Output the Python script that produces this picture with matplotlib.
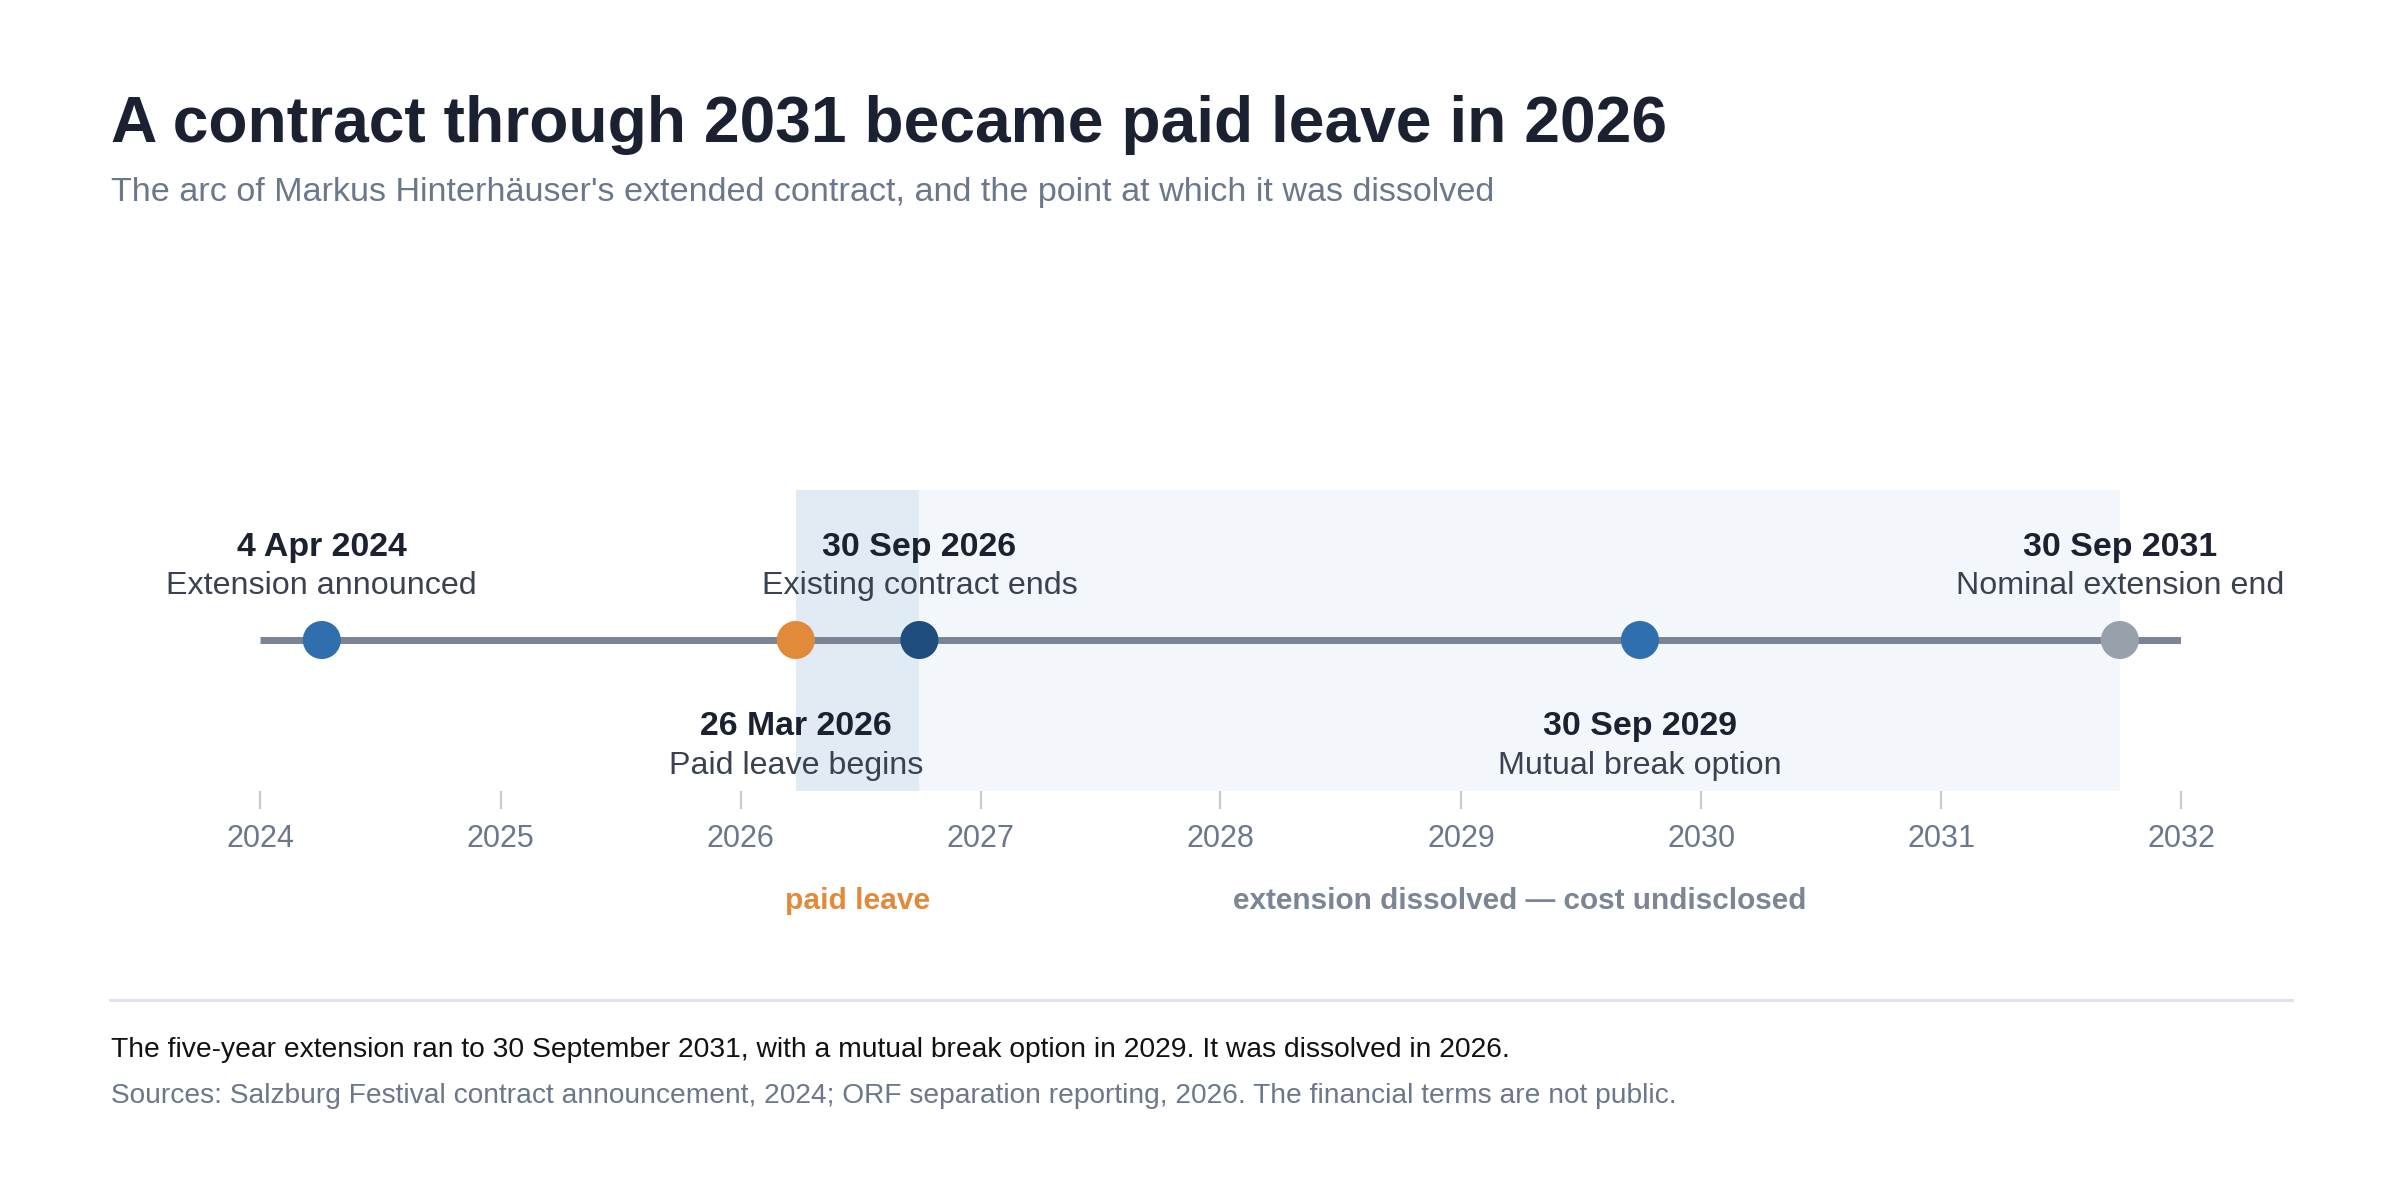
import pandas as pd
import matplotlib.pyplot as plt
import matplotlib.dates as mdates
from matplotlib.lines import Line2D

plt.rcParams['font.family'] = ['Liberation Sans', 'DejaVu Sans']

# Timeline data
event_dates = pd.to_datetime(['2024-04-04', '2026-03-26', '2026-09-30', '2029-09-30', '2031-09-30'])
event_titles = ['4 Apr 2024', '26 Mar 2026', '30 Sep 2026', '30 Sep 2029', '30 Sep 2031']
event_notes = ['Extension announced', 'Paid leave begins', 'Existing contract ends',
               'Mutual break option', 'Nominal extension end']
event_side = ['above', 'below', 'above', 'below', 'above']
event_colors = ['#2f6fad', '#e08a3a', '#1f4e7e', '#2f6fad', '#97a0ab']

leave_start, leave_end = event_dates[1], event_dates[2]
nominal_end = event_dates[4]
axis_start, axis_end = pd.Timestamp('2024-01-01'), pd.Timestamp('2032-01-01')
years = list(range(2024, 2033))

W, H = 2400, 1180
fig = plt.figure(figsize=(W / 200, H / 200), dpi=200)


def fy(py):
    return 1 - py / H


# Title block
fig.text(111 / W, fy(142), 'A contract through 2031 became paid leave in 2026',
         fontsize=23.1, fontweight='bold', color='#1b2130', va='baseline')
fig.text(111 / W, fy(201), "The arc of Markus Hinterhäuser's extended contract, "
         "and the point at which it was dissolved",
         fontsize=12.3, color='#6b778a', va='baseline')

# Timeline axes: y data runs in image pixels from the top
ax_top, ax_bot = 440, 791
ax = fig.add_axes([260 / W, fy(ax_bot), (2181 - 260) / W, (ax_bot - ax_top) / H])
ax.set_xlim(axis_start, axis_end)
ax.set_ylim(ax_bot, ax_top)
for s in ax.spines.values():
    s.set_visible(False)
ax.set_yticks([])
ax.set_xticks([pd.Timestamp(f'{y}-01-01') for y in years])
ax.xaxis.set_major_formatter(mdates.DateFormatter('%Y'))
ax.tick_params(axis='x', direction='out', length=6.3, width=0.8, color='#c4cad3',
               labelsize=11, labelcolor='#6b778a', pad=5.5)

# shaded spans
ax.fill_betweenx([490, ax_bot], leave_start, leave_end, color='#e1ebf4', lw=0, zorder=0)
ax.fill_betweenx([490, ax_bot], leave_end, nominal_end, color='#f3f7fb', lw=0, zorder=0)

# main line and events
ax.plot([axis_start, axis_end], [640, 640], color='#7a8495', lw=2.5,
        solid_capstyle='butt', zorder=2)
ax.scatter(event_dates, [640] * len(event_dates), s=13.7 ** 2, c=event_colors,
           lw=0, zorder=3)

for d, t, n, side in zip(event_dates, event_titles, event_notes, event_side):
    if side == 'above':
        y1, y2 = 556, 594
    else:
        y1, y2 = 735, 774
    ax.text(d, y1, t, ha='center', va='baseline', fontsize=12.2, fontweight='bold',
            color='#1b2130')
    ax.text(d, y2, n, ha='center', va='baseline', fontsize=11.6, color='#3a4252')

# span labels
ax.text(leave_start + (leave_end - leave_start) / 2, 909, 'paid leave', ha='center',
        va='baseline', fontsize=10.8, fontweight='bold', color='#e08a3a', clip_on=False)
ax.text(leave_end + (nominal_end - leave_end) / 2, 909,
        'extension dissolved \u2014 cost undisclosed', ha='center', va='baseline',
        fontsize=10.7, fontweight='bold', color='#7b8595', clip_on=False)

# footer
fig.add_artist(Line2D([110 / W, 2292 / W], [fy(1000), fy(1000)], color='#dfe3ea', lw=1.1))
fig.text(111 / W, fy(1057), 'The five-year extension ran to 30 September 2031, with a mutual '
         'break option in 2029. It was dissolved in 2026.',
         fontsize=10.2, color='#111111', va='baseline')
fig.text(111 / W, fy(1103), 'Sources: Salzburg Festival contract announcement, 2024; ORF '
         'separation reporting, 2026. The financial terms are not public.',
         fontsize=10.15, color='#6b778a', va='baseline')

fig.savefig('out.png', dpi=200, facecolor='white')
